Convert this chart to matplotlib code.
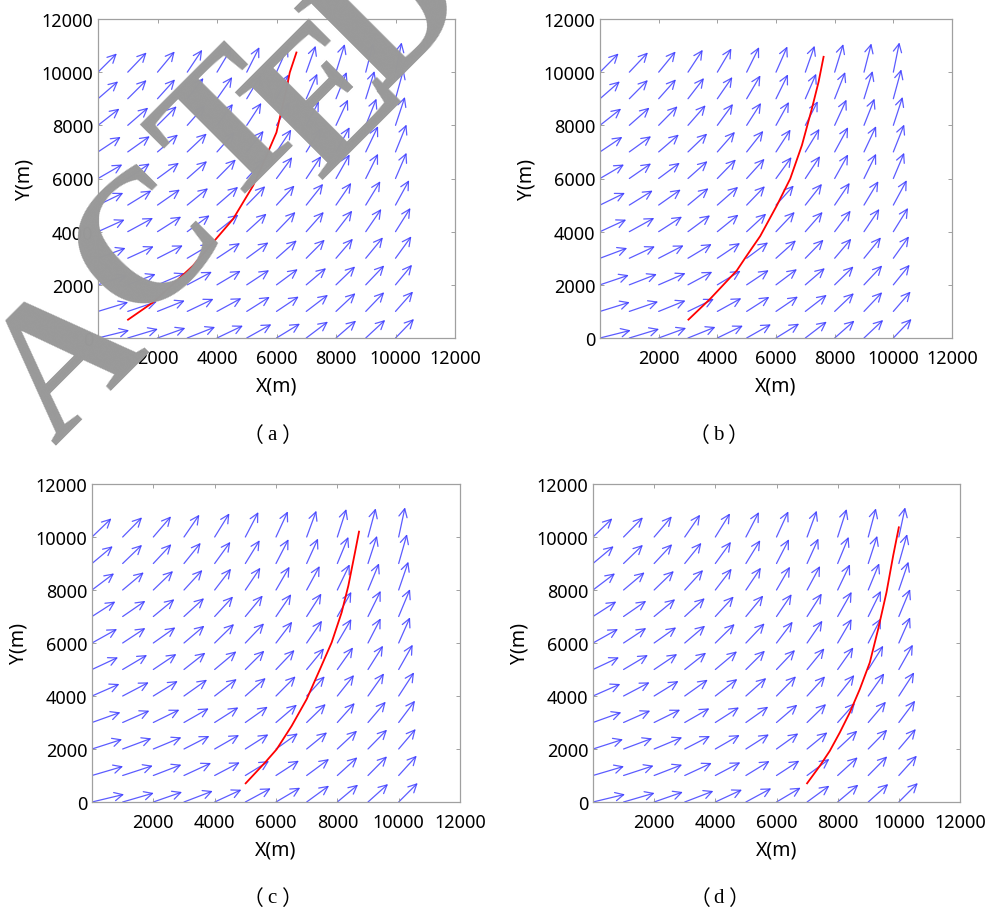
import numpy as np
import matplotlib.pyplot as plt
from matplotlib.patches import FancyArrowPatch

# grid of the wind field (m)
grid_x = [0, 1000, 2000, 3000, 4000, 5000, 6000, 7000, 8000, 9000, 10000]
grid_y = [0, 1000, 2000, 3000, 4000, 5000, 6000, 7000, 8000, 9000, 10000]

# arrow components, rows = grid_y, cols = grid_x
U = [
    [1046, 1014, 937, 937, 872, 828, 790, 730, 676, 654, 621],
    [1014, 981, 916, 883, 818, 774, 747, 730, 654, 621, 589],
    [981, 937, 916, 828, 796, 752, 714, 665, 643, 621, 556],
    [927, 872, 850, 807, 774, 730, 681, 621, 567, 578, 534],
    [894, 850, 796, 752, 720, 665, 638, 589, 545, 523, 502],
    [850, 796, 752, 698, 709, 621, 605, 567, 512, 490, 458],
    [818, 741, 720, 665, 632, 610, 529, 501, 458, 414, 371],
    [763, 741, 687, 654, 600, 567, 496, 480, 458, 414, 371],
    [720, 687, 643, 600, 534, 490, 441, 425, 403, 360, 316],
    [676, 632, 589, 545, 512, 469, 409, 371, 360, 294, 272],
    [633, 633, 578, 502, 480, 425, 387, 316, 294, 251, 207],
]
V = [
    [289, 340, 377, 415, 465, 516, 540, 616, 654, 679, 717],
    [346, 371, 409, 472, 497, 547, 560, 623, 686, 723, 748],
    [365, 403, 440, 491, 528, 553, 591, 629, 692, 730, 755],
    [384, 447, 484, 535, 572, 597, 673, 698, 736, 786, 824],
    [453, 516, 566, 616, 641, 679, 742, 742, 792, 855, 893],
    [459, 547, 585, 635, 686, 711, 736, 799, 836, 899, 937],
    [528, 566, 591, 654, 717, 742, 805, 843, 906, 931, 969],
    [566, 591, 654, 692, 755, 792, 843, 868, 931, 969, 1031],
    [629, 667, 717, 755, 805, 843, 880, 906, 969, 1006, 1069],
    [654, 704, 730, 780, 818, 880, 918, 943, 1006, 1044, 1107],
    [704, 742, 780, 843, 893, 943, 969, 994, 1057, 1082, 1120],
]

# trajectories for the four start points
path_a_x = [1009, 1850, 3195, 4540, 5213, 5661, 5998, 6334, 6446, 6670]
path_a_y = [689, 1340, 2720, 4475, 5727, 6855, 7732, 9361, 9987, 10740]
path_b_x = [3015, 3754, 4664, 5006, 5461, 6030, 6485, 6883, 7224, 7452, 7622]
path_b_y = [691, 1470, 2538, 3103, 3832, 4987, 5992, 7249, 8631, 9636, 10578]
path_c_x = [5011, 5641, 6022, 6511, 7000, 7435, 7815, 8141, 8359, 8576, 8707]
path_c_y = [705, 1486, 1990, 2872, 3879, 5013, 6020, 7154, 8161, 9421, 10202]
path_d_x = [7000, 7415, 7742, 8069, 8396, 8724, 9051, 9324, 9596, 9815, 10000]
path_d_y = [705, 1360, 1927, 2620, 3375, 4257, 5264, 6524, 7909, 9295, 10365]

paths = [(path_a_x, path_a_y), (path_b_x, path_b_y),
         (path_c_x, path_c_y), (path_d_x, path_d_y)]
letters = ['a', 'b', 'c', 'd']

W, H = 985, 912
# axes boxes in pixels: left, top, right, bottom
boxes = [(98, 20, 455, 339), (600, 20, 952, 339),
         (92, 485, 460, 803), (593, 485, 960, 803)]
# caption centres in pixels
cap_pos = [(272, 436), (718, 436), (272, 899), (719, 899)]

plt.rcParams['font.family'] = ['Noto Sans', 'DejaVu Sans']
fig = plt.figure(figsize=(W / 100, H / 100), dpi=100)

for k, (l, t, r, b) in enumerate(boxes):
    ax = fig.add_axes([l / W, 1 - b / H, (r - l) / W, (b - t) / H])
    for j, yy in enumerate(grid_y):
        for i, xx in enumerate(grid_x):
            arr = FancyArrowPatch((xx, yy), (xx + U[j][i], yy + V[j][i]),
                                  arrowstyle='->,head_length=0.6,head_width=0.3',
                                  mutation_scale=10, color='#3f3fff', lw=0.9,
                                  shrinkA=0, shrinkB=0, alpha=0.85)
            ax.add_patch(arr)
    px, py = paths[k]
    ax.plot(px, py, color='red', lw=1.3, zorder=5)

    ax.set_xlim(0, 12000)
    ax.set_ylim(0, 12000)
    ax.set_xticks([2000, 4000, 6000, 8000, 10000, 12000])
    ax.set_yticks([0, 2000, 4000, 6000, 8000, 10000, 12000])
    ax.tick_params(axis='x', pad=8)
    ax.tick_params(axis='y', pad=3.5)
    ax.tick_params(direction='in', length=3, width=0.6, color='#909090',
                   labelsize=13, top=True, right=True)
    for s in ax.spines.values():
        s.set_color('#a0a0a0')
        s.set_linewidth(0.9)
    ax.set_xlabel('X(m)', fontsize=14, labelpad=6)
    ax.set_ylabel('Y(m)', fontsize=14, labelpad=5)

    # caption: full-width brackets around a serif letter
    cx, cy = cap_pos[k]
    fy = 1 - cy / H
    fig.text(cx / W, fy, letters[k], ha='center', va='center',
             fontsize=15, family='Liberation Serif')
    fig.text((cx - 19) / W, fy, '（', ha='center', va='center',
             fontsize=15, family='Noto Sans CJK SC')
    fig.text((cx + 19) / W, fy, '）', ha='center', va='center',
             fontsize=15, family='Noto Sans CJK SC')

# watermark letters
marks = [('A', 70, 366), ('C', 150, 246), ('T', 236, 136), ('E', 332, 104), ('D', 394, 16)]
for ch, mx, my in marks:
    fig.text(mx / W, 1 - my / H, ch, ha='center', va='center', rotation=45,
             rotation_mode='anchor', fontsize=135, family='Liberation Serif',
             weight='bold', color='#999999', zorder=10)

fig.savefig('out.png', dpi=100)
